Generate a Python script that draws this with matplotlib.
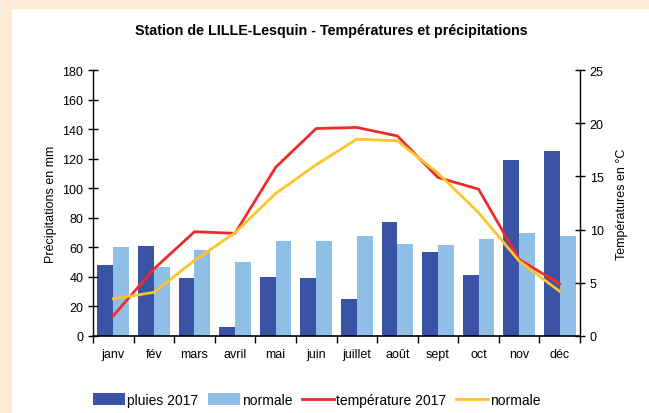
import numpy as np
import matplotlib
matplotlib.use("Agg")
import matplotlib.pyplot as plt
from matplotlib.patches import Rectangle

plt.rcParams['font.family'] = ['Liberation Sans', 'DejaVu Sans']

mois = ['janv', 'fév', 'mars', 'avril', 'mai', 'juin', 'juillet', 'août',
        'sept', 'oct', 'nov', 'déc']
pluies_2017 = [48, 61, 39, 6, 40, 39, 25, 77, 57, 41, 119, 125]
pluies_normale = [60, 47, 58, 50, 64, 64, 68, 62, 61.5, 65.7, 69.7, 67.7]
temp_2017 = [1.9, 6.3, 9.8, 9.65, 15.85, 19.5, 19.6, 18.8, 14.9, 13.8, 7.2, 4.9]
temp_normale = [3.5, 4.1, 7.1, 9.7, 13.4, 16.1, 18.5, 18.35, 15.3, 11.6, 7.05, 4.2]

fig = plt.figure(figsize=(6.49, 4.14), dpi=100)
fig.patch.set_facecolor('white')
# bordure beige à gauche et en haut
peach = '#FDEBD6'
fig.patches.append(Rectangle((0, 0), 12 / 649, 1, transform=fig.transFigure,
                             facecolor=peach, edgecolor='none', zorder=-10))
fig.patches.append(Rectangle((0, 1 - 10 / 414), 1, 10 / 414, transform=fig.transFigure,
                             facecolor=peach, edgecolor='none', zorder=-10))

ax = fig.add_axes([93 / 649, 1 - 337 / 414, 487 / 649, 266 / 414])
ax.set_facecolor('none')
x = np.arange(len(mois))
w = 0.39
b1 = ax.bar(x - w / 2, pluies_2017, width=w, color='#3A53A4', label='pluies 2017')
b2 = ax.bar(x + w / 2, pluies_normale, width=w, color='#8FBFE6', label='normale')
ax.set_xlim(-0.5, 11.5)
ax.set_ylim(0, 180)
ax.set_yticks(range(0, 181, 20))
ax.set_xticks(np.arange(-0.5, 12, 1))
ax.set_xticklabels([])
ax.set_xticks(x, minor=True)
ax.set_xticklabels(mois, minor=True)
ax.tick_params(axis='x', which='major', direction='out', length=5, width=1)
ax.tick_params(axis='x', which='minor', length=0, pad=9, labelsize=9)
ax.tick_params(axis='y', direction='inout', length=7, width=1, labelsize=9)
for s in ['top', 'right']:
    ax.spines[s].set_visible(False)
ax.spines['left'].set_linewidth(1)
ax.spines['bottom'].set_linewidth(1.2)
ax.set_ylabel('Précipitations en mm', fontsize=9, labelpad=4)

ax2 = ax.twinx()
l1, = ax2.plot(x, temp_2017, color='#EE2B2B', lw=2, label='température 2017')
l2, = ax2.plot(x, temp_normale, color='#FDC52A', lw=2, label='normale')
ax2.set_ylim(0, 25)
ax2.set_yticks(range(0, 26, 5))
ax2.tick_params(axis='y', direction='inout', length=7, width=1, labelsize=9)
for s in ['top', 'left', 'bottom']:
    ax2.spines[s].set_visible(False)
ax2.spines['right'].set_linewidth(1)
ax2.set_ylabel('Températures en °C', fontsize=9, labelpad=9)

fig.text(331 / 649, 1 - 31 / 414, 'Station de LILLE-Lesquin - Températures et précipitations',
         ha='center', va='center', fontsize=10.3, fontweight='bold')

fig.legend([b1, b2, l1, l2], ['pluies 2017', 'normale', 'température 2017', 'normale'],
           loc='center', bbox_to_anchor=(317 / 649, 1 - 401 / 414), ncol=4, frameon=False,
           fontsize=10, handlelength=2.3, handleheight=0.9, handletextpad=0.15,
           columnspacing=0.7)

fig.savefig('out.png', dpi=100)
